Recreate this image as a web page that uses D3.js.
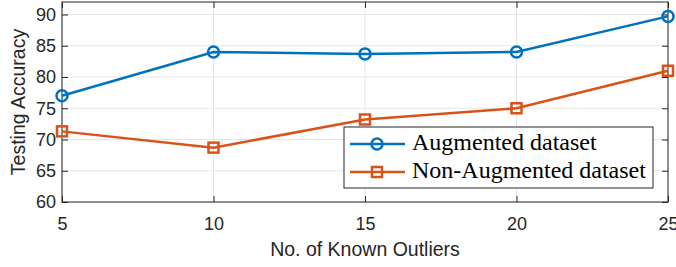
<!DOCTYPE html>
<html>
<head>
<meta charset="utf-8">
<script src="https://cdn.jsdelivr.net/npm/d3@7"></script>
<style>
  body { margin: 0; background: #fff; }
  svg { display: block; }
  .tick text { font-family: "Liberation Sans", Arial, sans-serif; font-size: 18px; fill: #262626; }
  .label { font-family: "Liberation Sans", Arial, sans-serif; font-size: 19.5px; fill: #262626; }
  .legend text { font-family: "Liberation Serif", "DejaVu Serif", serif; font-size: 24px; fill: #000; }
</style>
</head>
<body>
<div id="chart"></div>
<script>
// outlier counts on the x axis
const outliers = [5, 10, 15, 20, 25];
// testing accuracy per series
const augmented = [77, 84, 83.7, 84, 89.7];
const nonAugmented = [71.3, 68.7, 73.2, 75, 81];
const seriesNames = ['Augmented dataset', 'Non-Augmented dataset'];
const yTicks = [60, 65, 70, 75, 80, 85, 90];

const W = 676, H = 267;
const margin = {top: 2, right: 8, bottom: 65, left: 62};
const width = W - margin.left - margin.right;
const height = H - margin.top - margin.bottom;

const svg = d3.select('#chart').append('svg')
    .attr('width', W)
    .attr('height', H);

const g = svg.append('g')
    .attr('transform', 'translate(' + margin.left + ',' + margin.top + ')');

const x = d3.scaleLinear().domain([5, 25]).range([0, width]);
const y = d3.scaleLinear().domain([60, 92]).range([height, 0]);

// grid
g.append('g').selectAll('line')
  .data(yTicks)
  .join('line')
    .attr('x1', 0).attr('x2', width)
    .attr('y1', d => y(d)).attr('y2', d => y(d))
    .attr('stroke', '#e6e6e6').attr('stroke-width', 1);
g.append('g').selectAll('line')
  .data(outliers)
  .join('line')
    .attr('y1', 0).attr('y2', height)
    .attr('x1', d => x(d)).attr('x2', d => x(d))
    .attr('stroke', '#e6e6e6').attr('stroke-width', 1);

// axes, ticks pointing inward like matlab
const axColor = '#262626';
function styleAxis(sel) {
  sel.select('.domain').remove();
  sel.selectAll('.tick line').attr('stroke', axColor);
}
g.append('g')
    .attr('transform', 'translate(0,' + height + ')')
    .call(d3.axisBottom(x).tickValues(outliers).tickSizeInner(-6).tickSizeOuter(0).tickPadding(15))
    .call(styleAxis);
g.append('g')
    .call(d3.axisTop(x).tickValues(outliers).tickSizeInner(-6).tickSizeOuter(0).tickFormat(''))
    .call(styleAxis);
g.append('g')
    .call(d3.axisLeft(y).tickValues(yTicks).tickSizeInner(-6).tickSizeOuter(0).tickPadding(6))
    .call(styleAxis);
g.append('g')
    .attr('transform', 'translate(' + width + ',0)')
    .call(d3.axisRight(y).tickValues(yTicks).tickSizeInner(-6).tickSizeOuter(0).tickFormat(''))
    .call(styleAxis);

g.append('rect')
    .attr('width', width).attr('height', height)
    .attr('fill', 'none').attr('stroke', axColor).attr('stroke-width', 1);

// lines
const line = d3.line()
    .x((d, i) => x(outliers[i]))
    .y(d => y(d));

const colors = ['#0072BD', '#D95319'];

g.append('path').datum(augmented)
    .attr('d', line).attr('fill', 'none')
    .attr('stroke', colors[0]).attr('stroke-width', 2.5);
g.selectAll('.dot-a').data(augmented)
  .join('circle')
    .attr('class', 'dot-a')
    .attr('cx', (d, i) => x(outliers[i])).attr('cy', d => y(d))
    .attr('r', 5.5).attr('fill', 'none')
    .attr('stroke', colors[0]).attr('stroke-width', 2.5);

g.append('path').datum(nonAugmented)
    .attr('d', line).attr('fill', 'none')
    .attr('stroke', colors[1]).attr('stroke-width', 2.5);
g.selectAll('.dot-b').data(nonAugmented)
  .join('rect')
    .attr('class', 'dot-b')
    .attr('x', (d, i) => x(outliers[i]) - 5).attr('y', d => y(d) - 5)
    .attr('width', 10).attr('height', 10).attr('fill', 'none')
    .attr('stroke', colors[1]).attr('stroke-width', 2.5);

// axis labels
svg.append('text')
    .attr('class', 'label')
    .attr('x', margin.left + width / 2)
    .attr('y', 256)
    .attr('text-anchor', 'middle')
    .text('No. of Known Outliers');
svg.append('text')
    .attr('class', 'label')
    .attr('transform', 'translate(25,' + (margin.top + height / 2) + ') rotate(-90)')
    .attr('text-anchor', 'middle')
    .text('Testing Accuracy');

// legend
const lg = svg.append('g').attr('class', 'legend')
    .attr('transform', 'translate(344,127)');
lg.append('rect')
    .attr('width', 309).attr('height', 61)
    .attr('fill', '#fff').attr('stroke', axColor).attr('stroke-width', 1);
seriesNames.forEach((name, i) => {
  const ly = 17 + i * 28;
  lg.append('line')
      .attr('x1', 6).attr('x2', 61).attr('y1', ly).attr('y2', ly)
      .attr('stroke', colors[i]).attr('stroke-width', 2.5);
  if (i === 0) {
    lg.append('circle').attr('cx', 33).attr('cy', ly).attr('r', 5.5)
      .attr('fill', 'none').attr('stroke', colors[i]).attr('stroke-width', 2.5);
  } else {
    lg.append('rect').attr('x', 28).attr('y', ly - 5).attr('width', 10).attr('height', 10)
      .attr('fill', 'none').attr('stroke', colors[i]).attr('stroke-width', 2.5);
  }
  lg.append('text')
      .attr('x', 68).attr('y', ly)
      .attr('dy', '0.27em')
      .text(name);
});
</script>
</body>
</html>
